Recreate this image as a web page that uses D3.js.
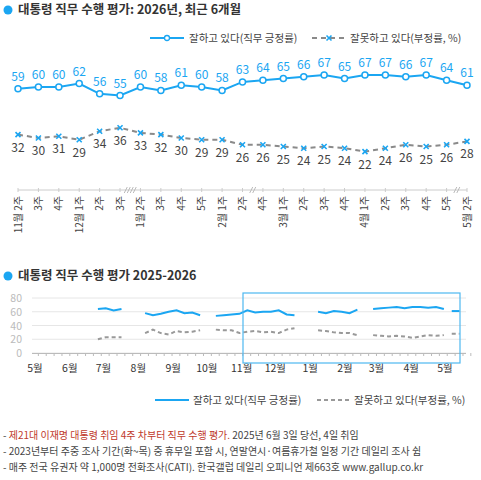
<!DOCTYPE html>
<html><head><meta charset="utf-8">
<script src="https://cdn.jsdelivr.net/npm/d3@7/dist/d3.min.js"></script>
<style>body{margin:0;background:#fff}text{font-family:"Noto Sans CJK KR","Noto Sans",sans-serif}</style>
</head><body><svg id="c" width="481" height="480"></svg>
<script>
// weekly labels (recent 6 months)
const weeks = ["11월 2주","3주","4주","12월 1주","2주","3주","1월 2주","3주","4주","5주","2월 1주","2주","4주","3월 1주","2주","3주","4주","4월 1주","2주","3주","4주","5주","5월 2주"];
const approve = [59,60,60,62,56,55,60,58,61,60,58,63,64,65,66,67,65,67,67,66,67,64,61];
const disapprove = [32,30,31,29,34,36,33,32,30,29,29,26,26,25,24,25,24,22,24,26,25,26,28];
const breaks = [5.5, 11.5, 21.5]; // axis break marks after index

// long-term segments (week dates, positive, negative)
const longSegs = [
  {dates:["2025-06-26","2025-07-03","2025-07-10","2025-07-17"], pos:[64,65,62,64], neg:[20,23,23,23]},
  {dates:["2025-08-07","2025-08-14","2025-08-21","2025-08-28","2025-09-04","2025-09-11","2025-09-18","2025-09-25"], pos:[58,55,57,60,62,58,59,55], neg:[29,34,29,27,32,30,31,33]},
  {dates:["2025-10-09","2025-10-16","2025-10-23","2025-10-30","2025-11-06","2025-11-13","2025-11-20","2025-11-27","2025-12-04","2025-12-11","2025-12-18"], pos:[54,55,56,57,62,59,60,60,62,56,55], neg:[34,33,33,29,31,32,30,31,29,34,36]},
  {dates:["2026-01-08","2026-01-15","2026-01-22","2026-01-29","2026-02-05","2026-02-12"], pos:[60,58,61,60,58,63], neg:[33,32,30,29,29,26]},
  {dates:["2026-02-26","2026-03-05","2026-03-12","2026-03-19","2026-03-26","2026-04-02","2026-04-09","2026-04-16","2026-04-23","2026-04-30"], pos:[64,65,66,67,65,67,67,66,67,64], neg:[26,25,24,25,24,22,24,26,25,26]},
  {dates:["2026-05-07","2026-05-14"], pos:[61,61], neg:[28,28]}
];
const monthTicks = ["5월","6월","7월","8월","9월","10월","11월","12월","1월","2월","3월","4월","5월"];
const yTicks = [0,20,40,60,80];

const BLUE = "#1ba6f2", GRAY = "#8a8a8a";
const svg = d3.select("#c");
const cross = (sel, cx, cy) => sel.append("path")
  .attr("d", `M${cx - 2.5},${cy - 2.5}L${cx + 2.5},${cy + 2.5}M${cx - 2.5},${cy + 2.5}L${cx + 2.5},${cy - 2.5}`)
  .attr("stroke", BLUE).attr("stroke-width", 1.6);

function title(y, t) {
  svg.append("circle").attr("cx", 8).attr("cy", y - 4).attr("r", 4.5).attr("fill", BLUE);
  svg.append("text").attr("x", 18).attr("y", y).attr("font-size", 12.5).attr("font-weight", 600).attr("fill", "#333").text(t);
}
title(14, "대통령 직무 수행 평가: 2026년, 최근 6개월");

// legend top
const lg = svg.append("g").attr("font-size", 10.5).attr("fill", "#444");
lg.append("line").attr("x1", 150).attr("x2", 184).attr("y1", 38).attr("y2", 38).attr("stroke", BLUE).attr("stroke-width", 2);
lg.append("circle").attr("cx", 167).attr("cy", 38).attr("r", 2.5).attr("fill", "#fff").attr("stroke", BLUE).attr("stroke-width", 1.3);
lg.append("text").attr("x", 189).attr("y", 42).text("잘하고 있다(직무 긍정률)");
lg.append("line").attr("x1", 312).attr("x2", 346).attr("y1", 38).attr("y2", 38).attr("stroke", GRAY).attr("stroke-width", 2).attr("stroke-dasharray", "5,4");
cross(lg, 329, 38);
lg.append("text").attr("x", 350).attr("y", 42).text("잘못하고 있다(부정률, %)");

// top chart
const x = d3.scalePoint().domain(d3.range(weeks.length)).range([18, 467]);
const y = d3.scaleLinear().domain([0, 100]).range([189, 19]);
const g = svg.append("g");
g.append("path").datum(disapprove).attr("fill", "none").attr("stroke", GRAY).attr("stroke-width", 2).attr("stroke-dasharray", "5,4")
  .attr("d", d3.line().x((d, i) => x(i)).y(d => y(d)));
g.append("path").datum(approve).attr("fill", "none").attr("stroke", BLUE).attr("stroke-width", 2)
  .attr("d", d3.line().x((d, i) => x(i)).y(d => y(d)));
g.selectAll(".pc").data(approve).join("circle").attr("cx", (d, i) => x(i)).attr("cy", d => y(d)).attr("r", 3)
  .attr("fill", "#fff").attr("stroke", BLUE).attr("stroke-width", 1.5);
disapprove.forEach((d, i) => cross(g, x(i), y(d)));
g.selectAll(".pl").data(approve).join("text").attr("x", (d, i) => x(i)).attr("y", d => y(d) - 8)
  .attr("text-anchor", "middle").attr("font-size", 12).attr("fill", BLUE).text(d => d);
g.selectAll(".nl").data(disapprove).join("text").attr("x", (d, i) => x(i)).attr("y", d => y(d) + 17)
  .attr("text-anchor", "middle").attr("font-size", 12).attr("fill", "#444").text(d => d);

// top axis
const ax = g.append("g").attr("transform", "translate(0,190)");
ax.append("line").attr("x1", x(0)).attr("x2", x(weeks.length - 1)).attr("stroke", "#ccc");
ax.selectAll(".tk").data(weeks).join("line").attr("x1", (d, i) => x(i)).attr("x2", (d, i) => x(i)).attr("y1", -2).attr("y2", 2).attr("stroke", "#ccc");
breaks.forEach((b, k) => {
  const n = k === 0 ? 4 : 2;
  for (let j = 0; j < n; j++) {
    const cx = (x(Math.floor(b)) + x(Math.ceil(b))) / 2 - (n - 1) * 1.5 + j * 3;
    ax.append("line").attr("x1", cx - 1.5).attr("x2", cx + 1.5).attr("y1", 3).attr("y2", -3).attr("stroke", "#bbb");
  }
});
ax.selectAll(".wl").data(weeks).join("text")
  .attr("transform", (d, i) => `translate(${x(i) + 3.5},6) rotate(-90)`)
  .attr("text-anchor", "end").attr("font-size", 10).attr("fill", "#444").text(d => d);

// bottom chart
title(280, "대통령 직무 수행 평가 2025-2026");
const xt = d3.scaleTime().domain([new Date("2025-05-01"), new Date("2026-05-01")]).range([35, 445]);
const yb = d3.scaleLinear().domain([0, 80]).range([353, 298]);
const b = svg.append("g");
b.selectAll(".gl").data(yTicks).join("line").attr("x1", 32).attr("x2", 466).attr("y1", d => yb(d)).attr("y2", d => yb(d)).attr("stroke", "#e6e6e6");
b.selectAll(".yl").data(yTicks).join("text").attr("x", 22).attr("y", d => yb(d) + 4).attr("text-anchor", "end")
  .attr("font-size", 10.5).attr("fill", "#bbb").text(d => d);
const wk = d3.timeWeek.range(new Date("2025-05-01"), new Date("2026-05-28"));
b.selectAll(".wt").data(wk).join("line").attr("x1", d => xt(d)).attr("x2", d => xt(d)).attr("y1", 353).attr("y2", 356).attr("stroke", "#bbb");
b.append("line").attr("x1", 32).attr("x2", 466).attr("y1", 353.5).attr("y2", 353.5).attr("stroke", "#bbb");
const mDates = d3.timeMonth.range(new Date("2025-05-01"), new Date("2026-05-02"));
b.selectAll(".ml").data(mDates).join("text").attr("x", d => xt(d)).attr("y", 372).attr("text-anchor", "middle")
  .attr("font-size", 10.5).attr("fill", "#333").text((d, i) => monthTicks[i]);
const lineT = key => d3.line().x(d => xt(new Date(d.date))).y(d => yb(d[key]));
longSegs.forEach(s => {
  const pts = s.dates.map((d, i) => ({date: d, pos: s.pos[i], neg: s.neg[i]}));
  b.append("path").datum(pts).attr("fill", "none").attr("stroke", "#999").attr("stroke-width", 2).attr("stroke-dasharray", "4,3").attr("d", lineT("neg"));
  b.append("path").datum(pts).attr("fill", "none").attr("stroke", BLUE).attr("stroke-width", 2).attr("d", lineT("pos"));
});
b.append("rect").attr("x", 243).attr("y", 293).attr("width", 217).attr("height", 70).attr("fill", "none").attr("stroke", "#4db8f0").attr("stroke-width", 1.2);

// bottom legend
const l2 = svg.append("g").attr("font-size", 10.5).attr("fill", "#444");
l2.append("line").attr("x1", 155).attr("x2", 189).attr("y1", 400).attr("y2", 400).attr("stroke", BLUE).attr("stroke-width", 2);
l2.append("text").attr("x", 193).attr("y", 404).text("잘하고 있다(직무 긍정률)");
l2.append("line").attr("x1", 317).attr("x2", 350).attr("y1", 400).attr("y2", 400).attr("stroke", "#999").attr("stroke-width", 2).attr("stroke-dasharray", "4,3");
l2.append("text").attr("x", 354).attr("y", 404).text("잘못하고 있다(부정률, %)");

// notes
const n1 = svg.append("text").attr("x", 3).attr("y", 439).attr("font-size", 10).attr("fill", "#444");
n1.append("tspan").text("- ");
n1.append("tspan").attr("fill", "#c0392b").text("제21대 이재명 대통령 취임 4주 차부터 직무 수행 평가.");
n1.append("tspan").text(" 2025년 6월 3일 당선, 4일 취임");
svg.append("text").attr("x", 3).attr("y", 455).attr("font-size", 10).attr("fill", "#444").text("- 2023년부터 주중 조사 기간(화~목) 중 휴무일 포함 시, 연말연시·여름휴가철 일정 기간 데일리 조사 쉼");
svg.append("text").attr("x", 3).attr("y", 471).attr("font-size", 10).attr("fill", "#444").text("- 매주 전국 유권자 약 1,000명 전화조사(CATI). 한국갤럽 데일리 오피니언 제663호 www.gallup.co.kr");
</script></body></html>
